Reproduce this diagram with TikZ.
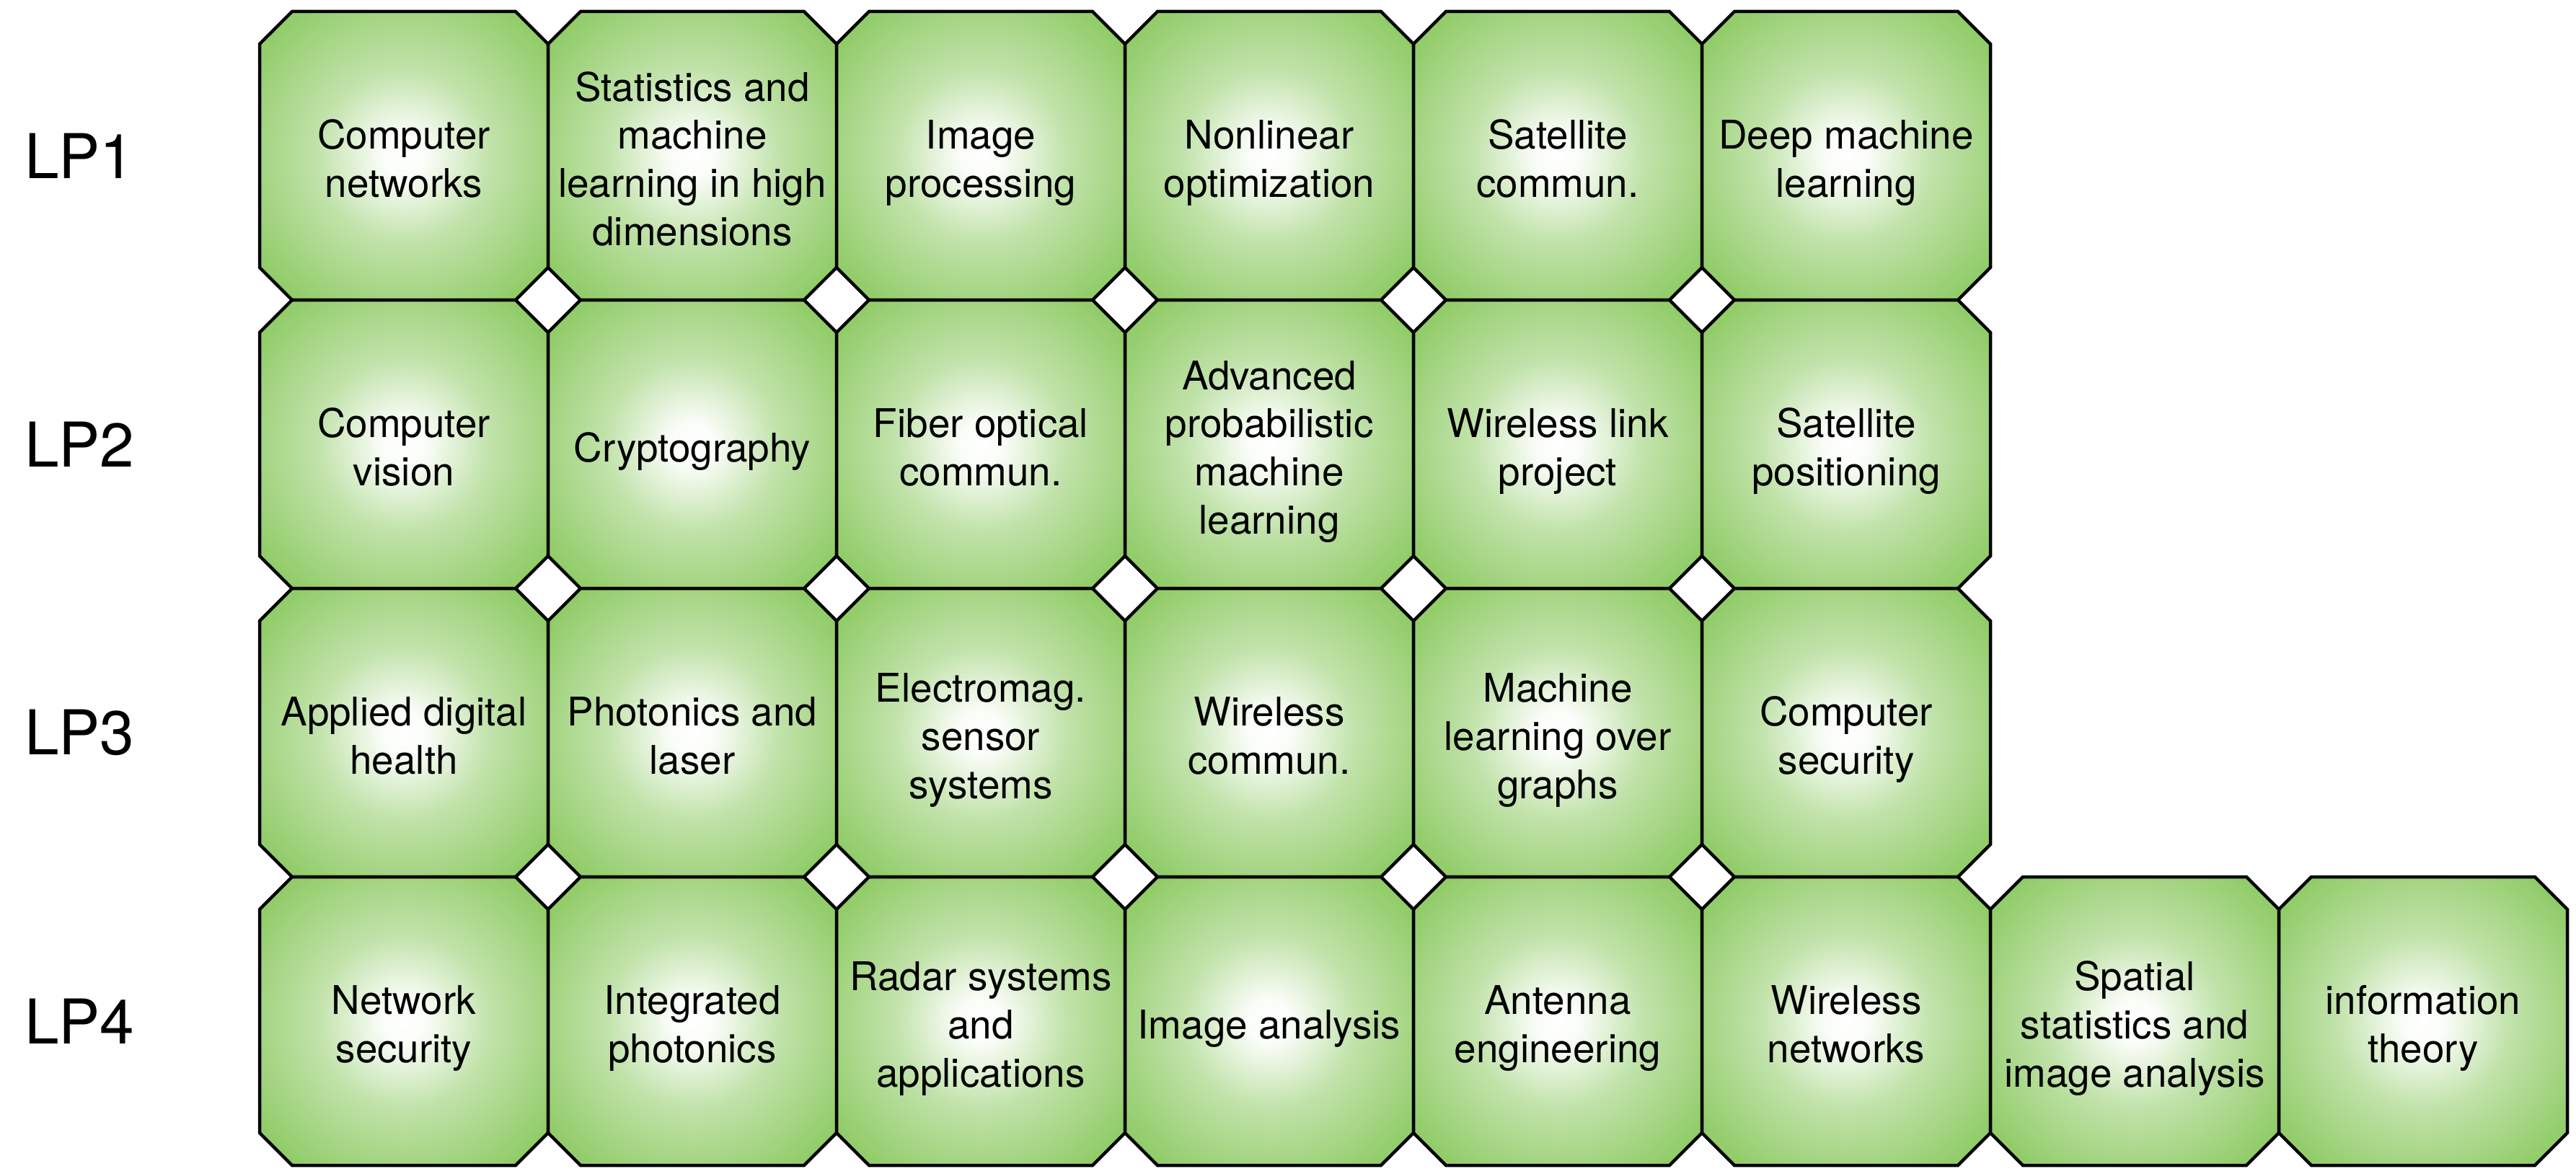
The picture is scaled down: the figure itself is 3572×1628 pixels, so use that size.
\documentclass[tikz,border=0pt]{standalone}
\usepackage{fontspec}
\setmainfont{TeX Gyre Heros}
\definecolor{tilegreen}{RGB}{136,200,92}
% white centre fading to green at the corners of each tile
\pgfdeclareradialshading{tileglow}{\pgfpoint{0bp}{0bp}}{%
  color(0bp)=(white);
  color(4bp)=(white!95!tilegreen);
  color(15bp)=(tilegreen!52!white);
  color(34bp)=(tilegreen);
  color(50bp)=(tilegreen)}
% centred stack of lines; every line gets the same strut box
\newcommand\tilelines[1]{\begin{tabular}{@{}c@{}}#1\end{tabular}}
\begin{document}
\begin{tikzpicture}[x=1bp,y=-1bp,
  tileframe/.style={draw=black, line width=4.5bp, line join=miter, shading=tileglow},
  tiletext/.style={font=\fontsize{55}{67}\selectfont, inner sep=0pt, yshift=-11bp},
  rowlabel/.style={anchor=west, font=\fontsize{86}{100}\selectfont, inner sep=0pt}]
\useasboundingbox (0,0) rectangle (3572,1628);

% octagonal tile: #1 = left edge, #2 = top edge, side 400, corner cut 45
\newcommand\octtile[2]{%
  \path[tileframe] (#1+45,#2) -- (#1+355,#2) -- (#1+400,#2+45) -- (#1+400,#2+355)
    -- (#1+355,#2+400) -- (#1+45,#2+400) -- (#1,#2+355) -- (#1,#2+45) -- cycle;}

\foreach \r in {0,...,3}
  \foreach \c in {0,...,5}
    {\octtile{360+400*\c}{16+400*\r}}
\octtile{2760}{1216}
\octtile{3160}{1216}

% period labels
\node[rowlabel] (lp1) at (34,216)  {LP1};
\node[rowlabel] (lp2) at (34,616)  {LP2};
\node[rowlabel] (lp3) at (34,1016) {LP3};
\node[rowlabel] (lp4) at (34,1416) {LP4};

% LP1
\node[tiletext] (a1) at (560,216)  {\tilelines{Computer\\networks}};
\node[tiletext] (a2) at (960,216)  {\tilelines{Statistics and\\machine\\learning in high\\dimensions}};
\node[tiletext] (a3) at (1360,216) {\tilelines{Image\\processing}};
\node[tiletext] (a4) at (1760,216) {\tilelines{Nonlinear\\optimization}};
\node[tiletext] (a5) at (2160,216) {\tilelines{Satellite\\commun.}};
\node[tiletext] (a6) at (2560,216) {\tilelines{Deep machine\\learning}};

% LP2
\node[tiletext] (b1) at (560,616)  {\tilelines{Computer\\vision}};
\node[tiletext] (b2) at (960,616)  {\tilelines{Cryptography}};
\node[tiletext] (b3) at (1360,616) {\tilelines{Fiber optical\\commun.}};
\node[tiletext] (b4) at (1760,616) {\tilelines{Advanced\\probabilistic\\machine\\learning}};
\node[tiletext] (b5) at (2160,616) {\tilelines{Wireless link\\project}};
\node[tiletext] (b6) at (2560,616) {\tilelines{Satellite\\positioning}};

% LP3
\node[tiletext] (c1) at (560,1016)  {\tilelines{Applied digital\\health}};
\node[tiletext] (c2) at (960,1016)  {\tilelines{Photonics and\\laser}};
\node[tiletext] (c3) at (1360,1016) {\tilelines{Electromag.\\sensor\\systems}};
\node[tiletext] (c4) at (1760,1016) {\tilelines{Wireless\\commun.}};
\node[tiletext] (c5) at (2160,1016) {\tilelines{Machine\\learning over\\graphs}};
\node[tiletext] (c6) at (2560,1016) {\tilelines{Computer\\security}};

% LP4
\node[tiletext] (d1) at (560,1416)  {\tilelines{Network\\security}};
\node[tiletext] (d2) at (960,1416)  {\tilelines{Integrated\\photonics}};
\node[tiletext] (d3) at (1360,1416) {\tilelines{Radar systems\\and\\applications}};
\node[tiletext] (d4) at (1760,1416) {\tilelines{Image analysis}};
\node[tiletext] (d5) at (2160,1416) {\tilelines{Antenna\\engineering}};
\node[tiletext] (d6) at (2560,1416) {\tilelines{Wireless\\networks}};
\node[tiletext] (d7) at (2960,1416) {\tilelines{Spatial\\statistics and\\image analysis}};
\node[tiletext] (d8) at (3360,1416) {\tilelines{information\\theory}};
\end{tikzpicture}
\end{document}
